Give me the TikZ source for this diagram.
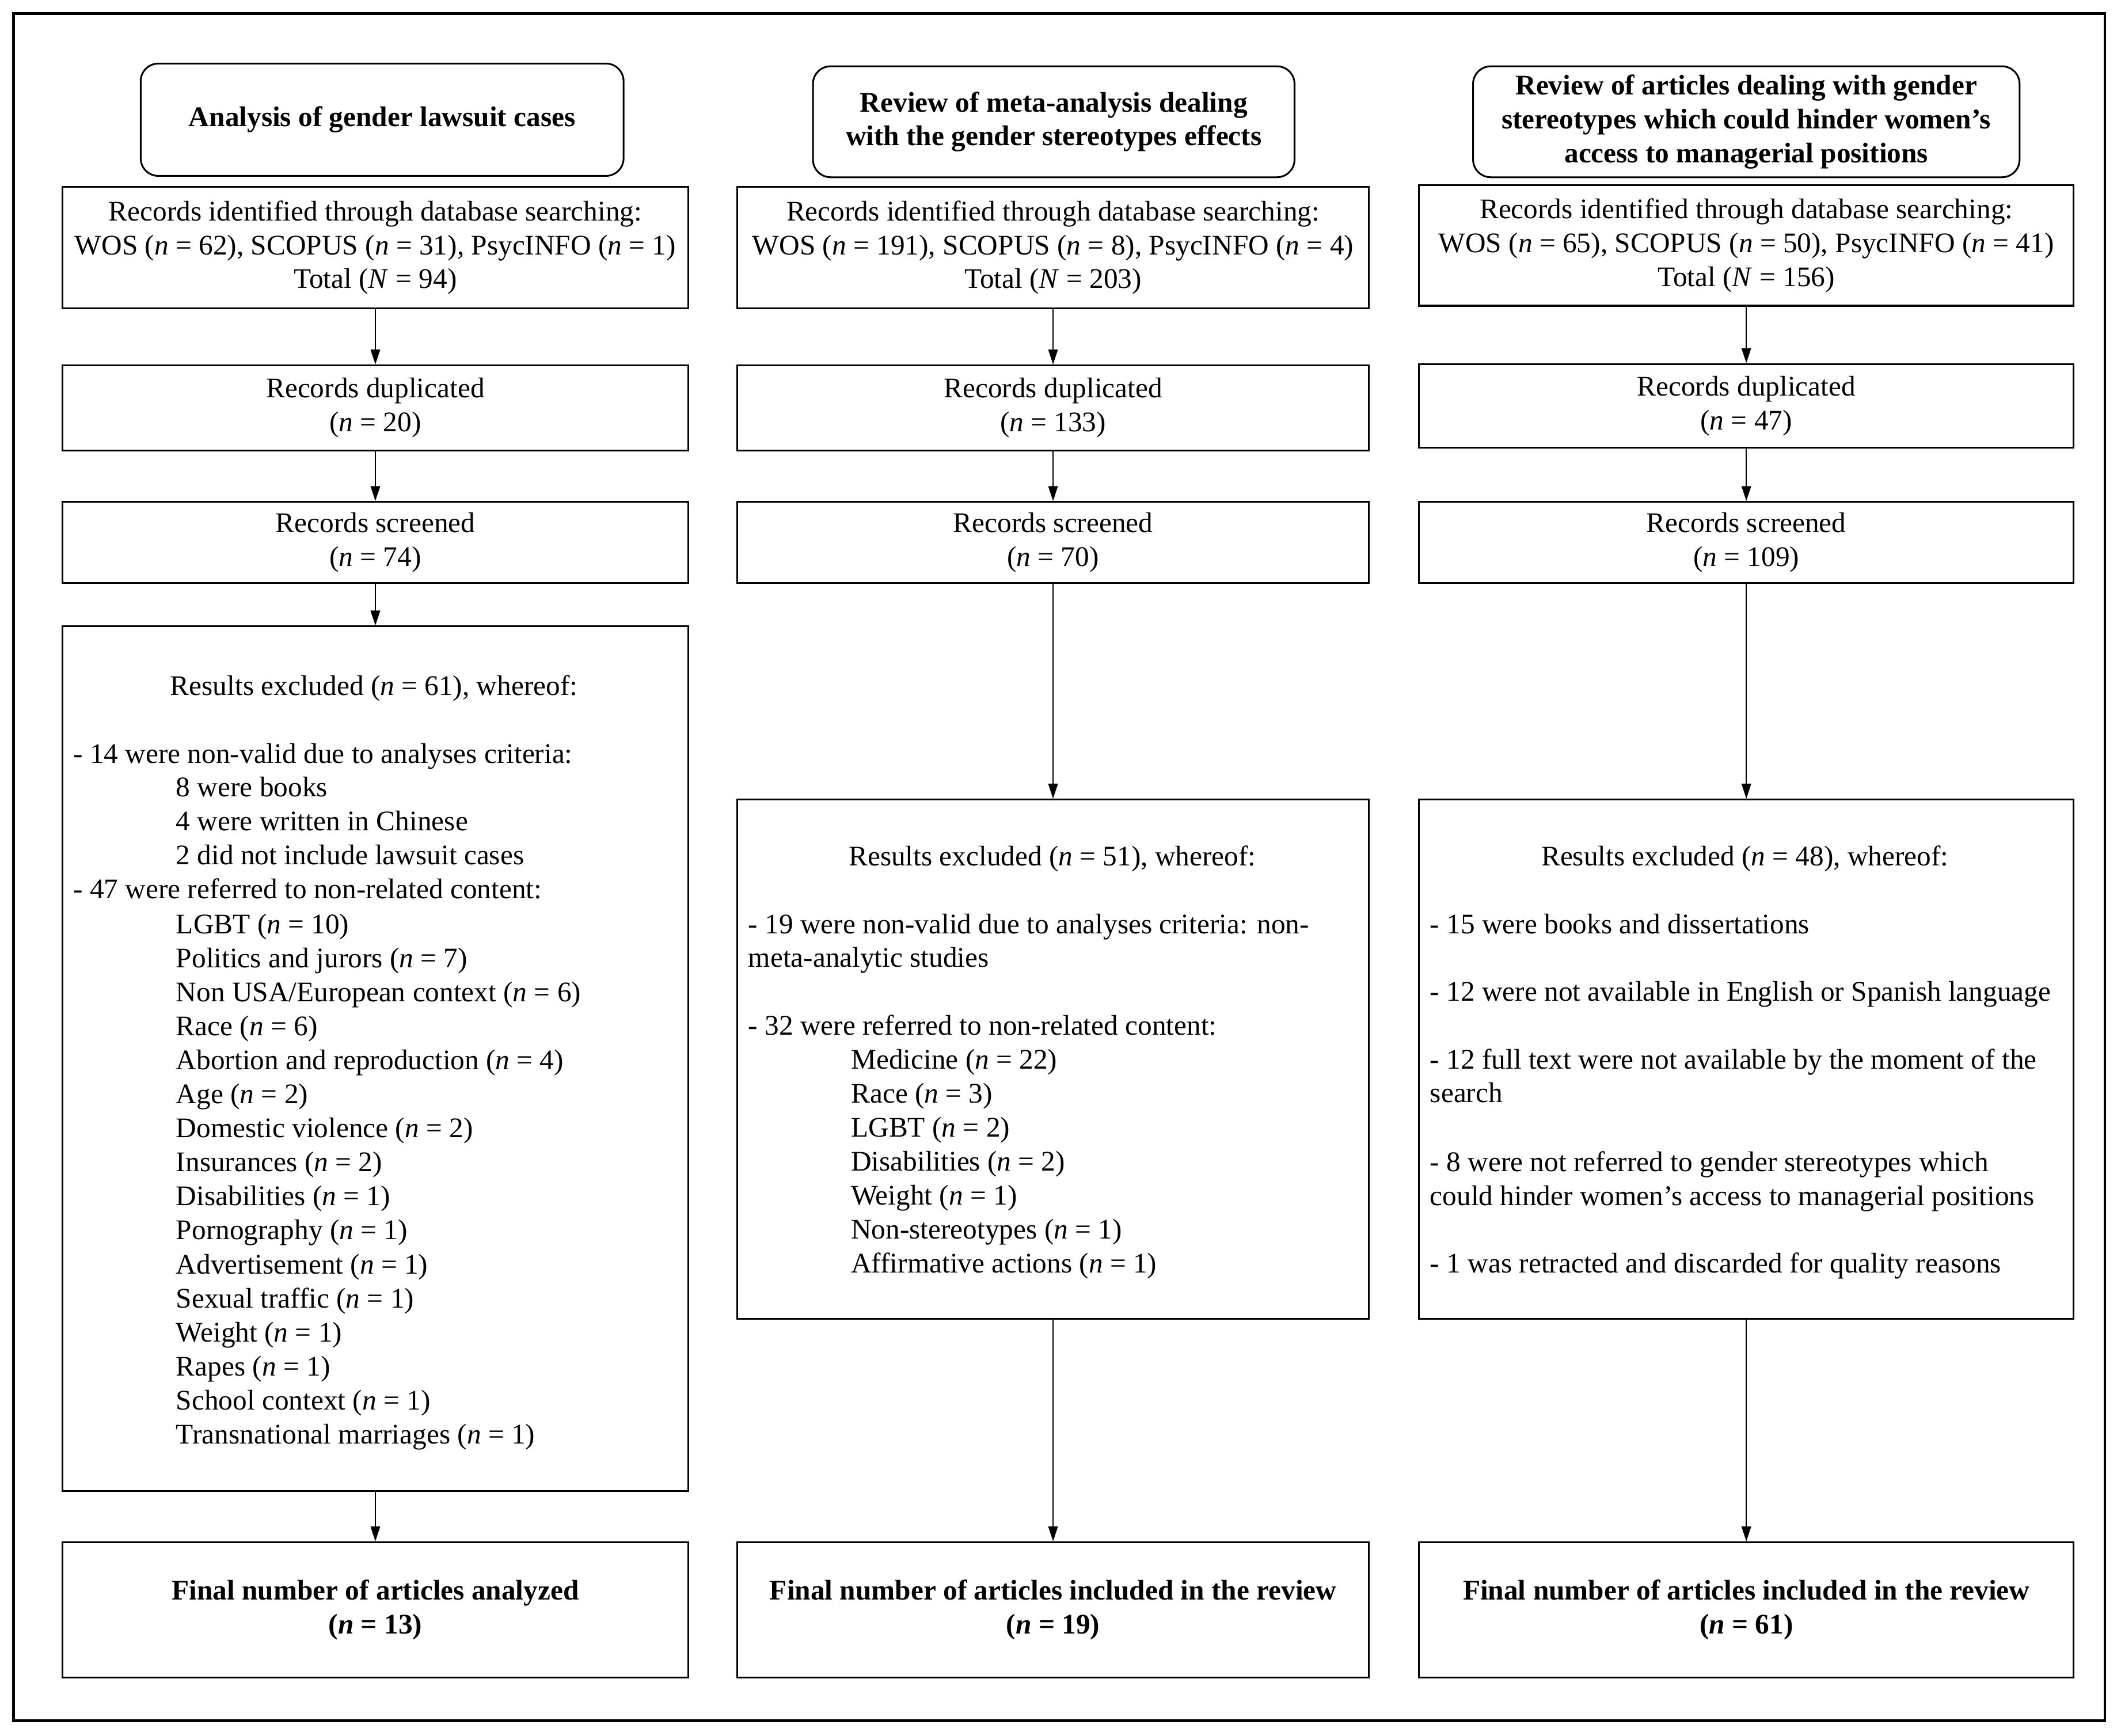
\documentclass[tikz,border=0pt]{standalone}
\usepackage{fontspec}
\setmainfont{Liberation Serif}
\usetikzlibrary{arrows.meta}
\newcommand\fs{\fontsize{21}{25}\selectfont}
\newcommand\nn{\textit{n}}
\tikzset{
  box/.style={draw, line width=1.3pt, inner sep=0pt, align=center, font=\fs},
  titlebox/.style={box, rounded corners=13pt, font=\fs\bfseries},
  txt/.style={inner sep=0pt, font=\fs},
  arr/.style={line width=0.9pt, -{Triangle[length=11pt,width=7pt]}},
}
\begin{document}
\begin{tikzpicture}[x=1pt,y=-1pt]
\useasboundingbox (0,0) rectangle (1568,1283.2);
\draw[line width=2pt] (10,10) rectangle (1556,1272);

% titles
\node[titlebox, minimum width=357, minimum height=83] (c1t) at (282.5,88.5) {Analysis of gender lawsuit cases};
\node[titlebox, minimum width=356, minimum height=82] (c2t) at (779,90) {Review of meta-analysis dealing\\with the gender stereotypes effects};
\node[titlebox, minimum width=404, minimum height=82] (c3t) at (1291,90) {Review of articles dealing with gender\\stereotypes which could hinder women's\\access to managerial positions};

% records identified
\node[box, minimum width=463, minimum height=90] (c1a) at (277.5,183) {Records identified through database searching:\\WOS (\nn{} = 62), SCOPUS (\nn{} = 31), PsycINFO (\nn{} = 1)\\Total (\textit{N} = 94)};
\node[box, minimum width=467, minimum height=90] (c2a) at (778.5,183) {Records identified through database searching:\\WOS (\nn{} = 191), SCOPUS (\nn{} = 8), PsycINFO (\nn{} = 4)\\Total (\textit{N} = 203)};
\node[box, minimum width=484, minimum height=89] (c3a) at (1291,181.5) {Records identified through database searching:\\WOS (\nn{} = 65), SCOPUS (\nn{} = 50), PsycINFO (\nn{} = 41)\\Total (\textit{N} = 156)};

% duplicated
\node[box, minimum width=463, minimum height=63] (c1b) at (277.5,301.5) {Records duplicated\\(\nn{} = 20)};
\node[box, minimum width=467, minimum height=63] (c2b) at (778.5,301.5) {Records duplicated\\(\nn{} = 133)};
\node[box, minimum width=484, minimum height=62] (c3b) at (1291,300) {Records duplicated\\(\nn{} = 47)};

% screened
\node[box, minimum width=463, minimum height=60] (c1c) at (277.5,401) {Records screened\\(\nn{} = 74)};
\node[box, minimum width=467, minimum height=60] (c2c) at (778.5,401) {Records screened\\(\nn{} = 70)};
\node[box, minimum width=484, minimum height=60] (c3c) at (1291,401) {Records screened\\(\nn{} = 109)};

% excluded boxes
\node[box, minimum width=463, minimum height=639] (c1d) at (277.5,782.5) {};
\node[box, minimum width=467, minimum height=384] (c2d) at (778.5,783) {};
\node[box, minimum width=484, minimum height=384] (c3d) at (1291,783) {};

% final boxes
\node[box, minimum width=463, minimum height=100, font=\fs\bfseries] (c1e) at (277.5,1190) {Final number of articles analyzed\\(\nn{} = 13)};
\node[box, minimum width=467, minimum height=100, font=\fs\bfseries] (c2e) at (778.5,1190) {Final number of articles included in the review\\(\nn{} = 19)};
\node[box, minimum width=484, minimum height=100, font=\fs\bfseries] (c3e) at (1291,1190) {Final number of articles included in the review\\(\nn{} = 61)};

% column 1 excluded text
\node[txt, anchor=base] (c1h) at (276.5,514) {Results excluded (\nn{} = 61), whereof:};
\node[txt, anchor=base west] (c1l1) at (54,564) {- 14 were non-valid due to analyses criteria:};
\node[txt, anchor=base west] (c1l2) at (130,589) {8 were books};
\node[txt, anchor=base west] (c1l3) at (130,614) {4 were written in Chinese};
\node[txt, anchor=base west] (c1l4) at (130,639) {2 did not include lawsuit cases};
\node[txt, anchor=base west] (c1l5) at (54,664) {- 47 were referred to non-related content:};
\foreach \t [count=\i from 0] in {{LGBT (\nn{} = 10)},{Politics and jurors (\nn{} = 7)},{Non USA/European context (\nn{} = 6)},{Race (\nn{} = 6)},{Abortion and reproduction (\nn{} = 4)},{Age (\nn{} = 2)},{Domestic violence (\nn{} = 2)},{Insurances (\nn{} = 2)},{Disabilities (\nn{} = 1)},{Pornography (\nn{} = 1)},{Advertisement (\nn{} = 1)},{Sexual traffic (\nn{} = 1)},{Weight (\nn{} = 1)},{Rapes (\nn{} = 1)},{School context (\nn{} = 1)},{Transnational marriages (\nn{} = 1)}}
  \node[txt, anchor=base west] (c1i\i) at (130,{690+25.15*\i}) {\t};

% column 2 excluded text
\node[txt, anchor=base] (c2h) at (778,640) {Results excluded (\nn{} = 51), whereof:};
\node[txt, anchor=base west] (c2l1) at (553,690) {- 19 were non-valid due to analyses criteria: non-};
\node[txt, anchor=base west] (c2l2) at (553,715) {meta-analytic studies};
\node[txt, anchor=base west] (c2l3) at (553,765) {- 32 were referred to non-related content:};
\foreach \t [count=\i from 0] in {{Medicine (\nn{} = 22)},{Race (\nn{} = 3)},{LGBT (\nn{} = 2)},{Disabilities (\nn{} = 2)},{Weight (\nn{} = 1)},{Non-stereotypes (\nn{} = 1)},{Affirmative actions (\nn{} = 1)}}
  \node[txt, anchor=base west] (c2i\i) at (629,{790+25.15*\i}) {\t};

% column 3 excluded text
\node[txt, anchor=base] (c3h) at (1290,640) {Results excluded (\nn{} = 48), whereof:};
\node[txt, anchor=base west] (c3l1) at (1057,690) {- 15 were books and dissertations};
\node[txt, anchor=base west] (c3l2) at (1057,740) {- 12 were not available in English or Spanish language};
\node[txt, anchor=base west] (c3l3) at (1057,790) {- 12 full text were not available by the moment of the};
\node[txt, anchor=base west] (c3l4) at (1057,815) {search};
\node[txt, anchor=base west] (c3l5) at (1057,866) {- 8 were not referred to gender stereotypes which};
\node[txt, anchor=base west] (c3l6) at (1057,891) {could hinder women's access to managerial positions};
\node[txt, anchor=base west] (c3l7) at (1057,941) {- 1 was retracted and discarded for quality reasons};

% arrows
\foreach \c in {c1,c2,c3} {
  \draw[arr] (\c a) -- (\c b);
  \draw[arr] (\c b) -- (\c c);
  \draw[arr] (\c c) -- (\c d);
  \draw[arr] (\c d) -- (\c e);
}
\end{tikzpicture}
\end{document}
